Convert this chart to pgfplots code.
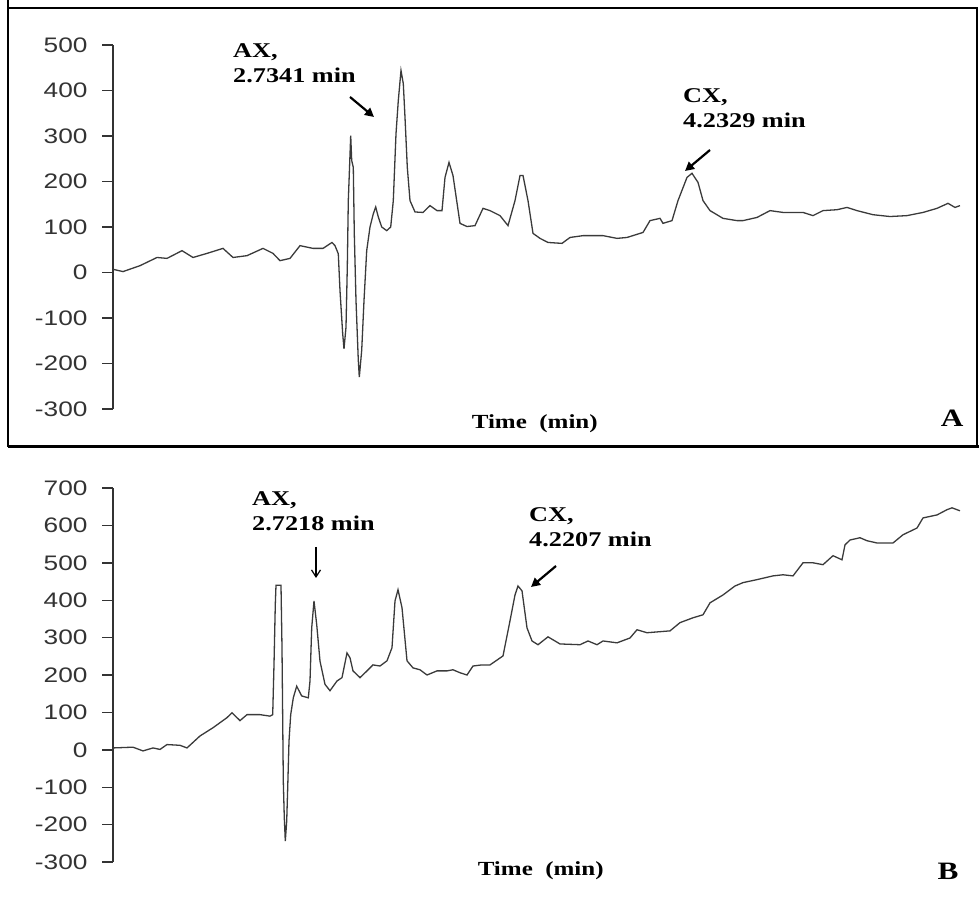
\documentclass[border=0pt]{standalone}
\usepackage{fontspec}
\setmainfont{Liberation Serif}
\setsansfont{Liberation Sans}
\newfontfamily\annfont[FakeStretch=1.25]{Liberation Serif}
\newfontfamily\tickfont[FakeStretch=1.25]{Liberation Sans}
\usepackage{pgfplots}
\pgfplotsset{compat=1.18}
\usetikzlibrary{arrows.meta}
\definecolor{curve}{HTML}{3A3A3A}
\definecolor{ticktext}{HTML}{333333}

\pgfplotsset{chrom/.style={
  scale only axis, width=852pt,
  xmin=113, xmax=965,
  axis x line=none, axis y line*=left,
  y axis line style={line width=1.4pt, color=ticktext, -},
  ytick distance=100,
  tick align=outside, major tick length=11pt,
  every tick/.style={line width=1.4pt, color=ticktext},
  yticklabel style={font=\fontsize{21}{21}\selectfont\tickfont, color=ticktext, xshift=-11pt},
  /pgf/number format/assume math mode=true,
  clip=false,
}}

\begin{document}
\begin{tikzpicture}[x=1pt,y=1pt]
% frames
\draw[line width=2pt] (8,452) -- (8,891) -- (977,891) -- (977,452);
\draw[line width=3pt] (8,452) -- (979,452);
\draw[line width=2pt] (8,452) -- (8,899);

% ---------------- Panel A ----------------
\begin{axis}[chrom, at={(113pt,490pt)}, anchor=south west, height=364pt,
  ymin=-300, ymax=500]
\addplot[color=curve, line width=1.3pt] coordinates {
(113,7) (123,2) (140,15) (157,33) (167,31) (182,48) (193,33) (207,42)
(223,53) (233,33) (247,37) (263,53) (273,42) (280,26) (290,31) (300,59)
(313,53) (323,53) (332,66) (335,59) (338.3,41) (340,-40) (342.7,-135)
(344,-168) (346,-120) (347.3,12) (348.3,158) (349.3,217) (350.7,301)
(351.7,246) (353.3,231) (354.3,85) (356,-62) (358.3,-193) (359.3,-230)
(361.7,-171) (364,-62) (366.7,48) (370,100) (373.3,129) (375.7,144)
(378.3,122) (381.7,100) (386.7,92) (390.7,100) (393.3,158) (396,305)
(398.3,378) (401,444) (403.3,415) (405,341) (407.3,231) (410,158)
(415,133) (423,132) (430,147) (437,136) (442,136) (445,209) (449,242)
(453,213) (460,108) (467,101) (475,103) (483,141) (490,136) (500,125)
(508,103) (515,158) (520,213) (523,213) (528,158) (533,86) (540,75)
(548,66) (562,64) (570,77) (583,81) (603,81) (617,75) (627,77) (643,88)
(650,114) (660,119) (663,108) (672,114) (678,158) (687,209) (692,218)
(698,198) (703,158) (710,136) (723,119) (737,114) (743,114) (757,121)
(770,136) (783,132) (803,132) (813,125) (823,136) (837,138) (847,143)
(857,136) (873,127) (890,123) (907,125) (923,132) (937,141) (948,152)
(955,143) (960,147)
};
\node[font=\fontsize{20}{20}\selectfont\annfont\bfseries, anchor=center]
  at (axis description cs:0.495,-0.041) {Time\ \ (min)};
\node[font=\fontsize{25}{25}\selectfont\annfont\bfseries, anchor=center]
  at (axis description cs:0.985,-0.025) {A};
\end{axis}
% annotations A
\node[font=\fontsize{21}{25}\selectfont\annfont\bfseries, align=left, anchor=north west, inner sep=0pt]
  at (233,856) {AX,\\2.7341 min};
\draw[line width=2.2pt, -{Triangle[length=9pt,width=9pt]}] (350,802) -- (374,782);
\node[font=\fontsize{21}{25}\selectfont\annfont\bfseries, align=left, anchor=north west, inner sep=0pt]
  at (683,811) {CX,\\4.2329 min};
\draw[line width=2.2pt, -{Triangle[length=9pt,width=9pt]}] (710,749) -- (685,728);

% ---------------- Panel B ----------------
\begin{axis}[chrom, at={(113pt,37pt)}, anchor=south west, height=374pt,
  ymin=-300, ymax=700]
\addplot[color=curve, line width=1.3pt] coordinates {
(113,5) (133,7) (143,-3) (153,5) (160,1) (167,14) (180,12) (187,5)
(200,37) (213,59) (227,86) (232,99) (240,78) (247,94) (260,94) (270,90)
(272.7,94) (274,228) (275.3,389) (276,440) (281,440) (282,273)
(283.3,-84) (284.3,-182) (285.3,-244) (286.7,-191) (287.7,-102) (289,23)
(290.7,94) (293.3,139) (296.7,170) (301.7,144) (308.3,139) (310,184)
(311.7,326) (314,398) (316.7,335) (320,237) (325,175) (330,158) (337,184)
(342,193) (347,259) (350,246) (353,211) (360,193) (367,211) (373,227)
(380,224) (387,238) (392,273) (395,398) (398,428) (402,380) (407,238)
(413,219) (420,214) (427,200) (437,211) (447,211) (453,214) (460,206)
(467,200) (473,224) (482,227) (490,227) (503,251) (510,345) (515,414)
(518,438) (522,425) (527,326) (532,291) (538,281) (548,302) (560,283)
(580,281) (588,291) (597,281) (603,291) (617,286) (630,299) (637,321)
(647,313) (670,318) (680,340) (693,353) (703,361) (710,393) (723,414)
(735,438) (743,447) (757,455) (773,465) (783,468) (793,465) (803,500)
(813,500) (823,495) (833,519) (842,508) (845,548) (850,561) (860,567)
(867,559) (877,553) (893,553) (903,575) (917,593) (923,620) (937,628)
(947,642) (952,647) (960,639)
};
\node[font=\fontsize{20}{20}\selectfont\annfont\bfseries, anchor=center]
  at (axis description cs:0.502,-0.024) {Time\ \ (min)};
\node[font=\fontsize{25}{25}\selectfont\annfont\bfseries, anchor=center]
  at (axis description cs:0.98,-0.024) {B};
\end{axis}
% annotations B
\node[font=\fontsize{21}{25}\selectfont\annfont\bfseries, align=left, anchor=north west, inner sep=0pt]
  at (252,408) {AX,\\2.7218 min};
\draw[line width=1.2pt, -{Straight Barb[length=7pt,width=9pt]}] (316,352) -- (316,321);
\node[font=\fontsize{21}{25}\selectfont\annfont\bfseries, align=left, anchor=north west, inner sep=0pt]
  at (529,392) {CX,\\4.2207 min};
\draw[line width=2.2pt, -{Triangle[length=9pt,width=9pt]}] (556,333) -- (531,312);

\pgfresetboundingbox
\useasboundingbox (0,0) rectangle (979,899);
\end{tikzpicture}
\end{document}
